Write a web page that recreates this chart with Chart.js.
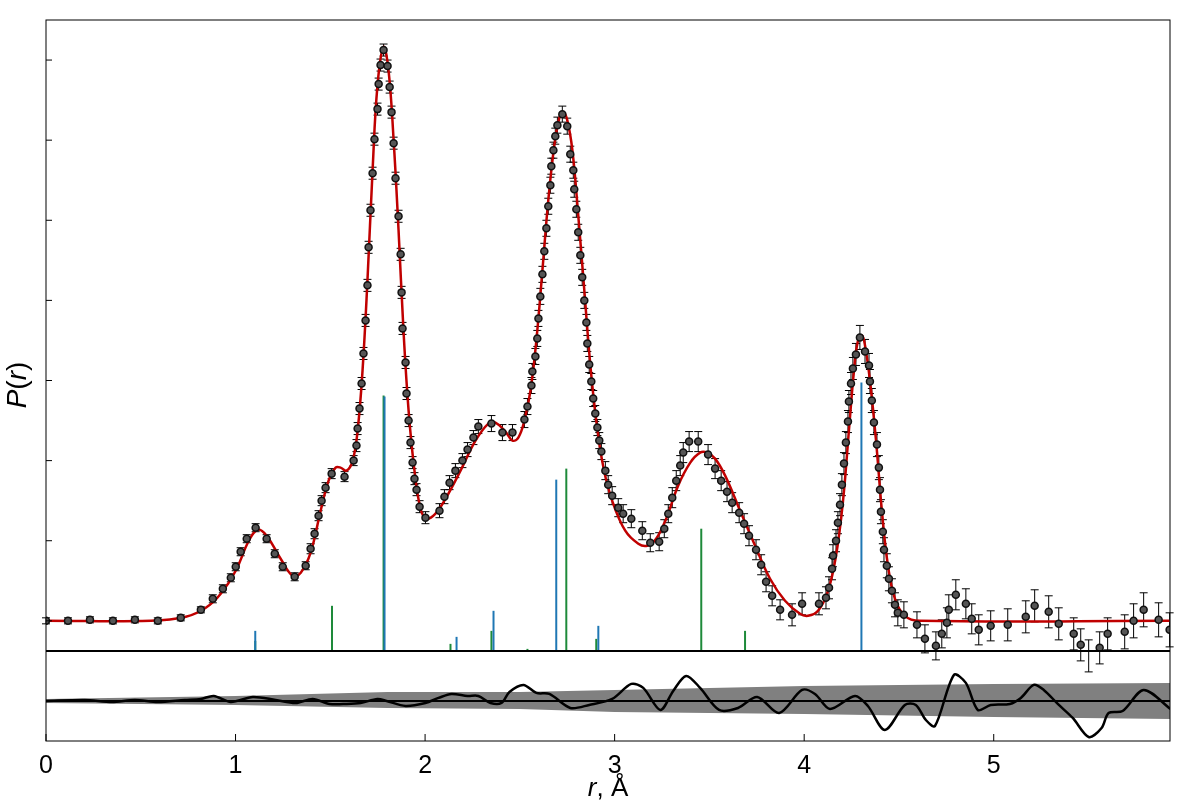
<!DOCTYPE html>
<html>
<head>
<meta charset="utf-8">
<script src="https://cdn.jsdelivr.net/npm/chart.js@4.4.0/dist/chart.umd.min.js"></script>
<style>
  html, body { margin: 0; padding: 0; background: #fff; }
  #wrap { width: 1200px; height: 800px; }
</style>
</head>
<body>
<div id="wrap"><canvas id="pr"></canvas></div>
<script>
// measured P(r): [r, P, error]
const measured = [
  [0,0,3],[0.116,0,3],[0.232,1,3],[0.353,0,3],[0.469,1,3],[0.590,0,3],[0.711,3,3],[0.817,11,3],
  [0.880,22,4],[0.933,32,4],[0.975,43,4],[1.001,54,4],[1.027,69,4],[1.059,82,4],[1.106,93,4],
  [1.164,82,4],[1.207,67,4],[1.249,54,4],[1.312,44,4],[1.370,55,4],[1.396,72,5],[1.417,87,5],
  [1.438,105,5],[1.454,120,5],[1.475,133,5],[1.507,147,5],[1.575,144,5],[1.623,160,5],[1.638,175,6],
  [1.644,192,6],[1.654,212,6],[1.665,237,6],[1.675,267,6],[1.686,300,6],[1.696,335,6],[1.702,373,6],
  [1.712,410,6],[1.723,447,6],[1.733,481,6],[1.749,511,6],[1.755,536,6],[1.765,555,6],[1.781,570,6],
  [1.802,554,6],[1.813,533,6],[1.823,508,6],[1.834,477,6],[1.844,442,6],[1.860,404,6],[1.871,366,6],
  [1.876,328,6],[1.881,292,6],[1.897,258,6],[1.902,227,6],[1.913,200,6],[1.923,178,6],[1.934,158,6],
  [1.944,142,6],[1.955,131,6],[1.971,114,6],[2.002,103,6],[2.076,110,7],[2.102,124,7],[2.129,138,7],
  [2.160,150,7],[2.197,160,7],[2.224,171,7],[2.255,183,7],[2.281,194,7],[2.350,197,8],[2.408,188,8],
  [2.461,188,8],[2.524,201,8],[2.540,214,8],[2.561,235,8],[2.566,249,8],[2.582,264,8],[2.592,282,8],
  [2.598,302,8],[2.608,324,8],[2.619,346,8],[2.629,369,8],[2.640,392,8],[2.650,414,8],[2.661,435,8],
  [2.666,454,8],[2.677,470,8],[2.687,484,8],[2.698,495,8],[2.724,506,8],[2.750,494,8],[2.766,466,8],
  [2.782,450,8],[2.787,431,8],[2.798,411,8],[2.808,388,8],[2.819,365,8],[2.829,343,8],[2.840,320,8],
  [2.851,298,8],[2.856,277,8],[2.866,256,8],[2.877,239,8],[2.887,222,8],[2.898,207,8],[2.909,193,8],
  [2.919,180,8],[2.930,169,8],[2.951,150,9],[2.966,136,9],[2.987,125,9],[3.019,113,9],[3.045,107,9],
  [3.088,102,9],[3.146,90,9],[3.188,78,9],[3.235,79,9],[3.262,92,9],[3.283,107,9],[3.304,123,10],
  [3.325,140,10],[3.346,155,10],[3.362,168,10],[3.393,179,10],[3.441,179,10],[3.493,166,10],
  [3.530,152,10],[3.562,140,10],[3.593,129,10],[3.620,118,10],[3.657,108,10],[3.683,97,10],
  [3.709,85,10],[3.746,71,10],[3.773,56,10],[3.799,39,10],[3.831,25,10],[3.873,11,10],[3.936,6,11],
  [3.989,17,11],[4.078,17,11],[4.115,23,11],[4.131,33,11],[4.147,52,11],[4.152,65,11],[4.168,80,11],
  [4.178,98,11],[4.189,116,11],[4.199,136,11],[4.210,157,11],[4.220,178,11],[4.231,199,11],
  [4.236,219,11],[4.247,237,11],[4.257,252,11],[4.273,266,11],[4.294,283,12],[4.321,269,12],
  [4.342,255,12],[4.347,239,12],[4.357,220,12],[4.368,198,12],[4.384,176,12],[4.394,153,12],
  [4.400,131,12],[4.405,109,12],[4.415,89,12],[4.421,71,12],[4.436,55,12],[4.447,42,12],[4.463,30,12],
  [4.479,16,12],[4.494,8,13],[4.526,6,13],[4.595,-4,13],[4.637,-18,14],[4.695,-25,14],[4.726,-13,14],
  [4.753,-2,15],[4.763,11,15],[4.800,26,15],[4.853,17,15],[4.884,2,15],[4.921,-9,15],[4.984,-5,15],
  [5.074,-4,16],[5.169,4,16],[5.216,15,16],[5.290,9,16],[5.343,-3,16],[5.422,-13,16],[5.459,-24,16],
  [5.501,-35,16],[5.559,-27,16],[5.601,-13,16],[5.691,-11,17],[5.738,0,17],[5.791,11,17],
  [5.870,1,17],[5.928,-9,17]
];

// fitted P(r)
const fitR = [0,0.553,0.738,0.843,0.922,1.001,1.070,1.117,1.164,1.238,1.301,1.344,1.396,1.449,1.491,
  1.528,1.554,1.586,1.618,1.644,1.670,1.696,1.723,1.749,1.781,1.807,1.834,1.860,1.886,1.913,1.944,
  1.976,2.007,2.055,2.108,2.187,2.266,2.334,2.371,2.424,2.461,2.492,2.524,2.556,2.587,2.619,2.650,
  2.682,2.708,2.729,2.750,2.777,2.808,2.840,2.872,2.903,2.940,2.987,3.056,3.125,3.172,3.219,3.272,
  3.335,3.399,3.451,3.488,3.530,3.583,3.662,3.741,3.820,3.899,3.978,4.020,4.073,4.126,4.168,4.205,
  4.236,4.263,4.284,4.305,4.321,4.347,4.379,4.410,4.442,4.479,4.531,4.610,5.928];
const fitP = [0,0,4,13,27,50,80,91,85,62,45,48,68,110,140,153,153,150,160,190,250,340,450,535,573,
  550,480,390,290,210,150,112,102,107,122,150,180,197,198,189,180,183,200,230,280,350,420,475,502,
  508,500,470,405,330,255,200,154,120,90,77,75,82,102,135,158,168,168,162,145,110,75,42,20,7,5,10,
  30,65,120,190,250,280,285,275,240,180,110,55,22,5,0,0];

// partial contributions (sticks): r and height
const stickBlueR = [1.104,1.786,2.166,2.361,2.692,2.914,4.302];
const stickBlueP = [-10,224,-16,10,141,-5,238];
const stickGreenR = [1.104,1.509,1.781,2.134,2.350,2.540,2.745,2.903,3.457,3.688];
const stickGreenP = [-20,15,225,-23,-10,-28,152,-18,92,-10];
const stickBase = -30;

// residuals
const resR = [0,0.205,0.348,0.469,0.590,0.732,0.817,0.885,0.975,1.091,1.212,1.317,1.407,1.496,1.586,
  1.660,1.749,1.797,1.897,2.002,2.071,2.139,2.224,2.281,2.345,2.403,2.445,2.519,2.587,2.656,2.766,
  2.866,2.987,3.088,3.151,3.241,3.309,3.377,3.451,3.551,3.651,3.752,3.868,3.989,4.057,4.136,4.268,
  4.336,4.426,4.531,4.589,4.642,4.690,4.790,4.853,4.916,4.984,5.085,5.143,5.211,5.264,5.338,5.417,
  5.501,5.569,5.606,5.680,5.791,5.933];
const resV = [0,1,-1,1,-1,1,2,5,-1,4,1,-2,2,-3,-3,-2,2,0,-5,-2,3,7,5,5,-2,-2,9,16,8,7,-7,-4,2,17,13,
  -9,10,25,13,-9,-7,4,-12,11,7,-8,5,-5,-29,-4,-4,-19,-25,26,18,-9,-4,-3,3,16,11,-3,-17,-36,-27,-12,
  -10,11,-8];

// noise band
const bandR = [0,1,1.8,2.5,3,4,5,5.93];
const bandHi = [2,5,9,9,11,15,17,18];
const bandLo = [-2,-4,-7,-8,-11,-13,-16,-18];

const xTicks = [0,1,2,3,4,5];
const yTicks = [0,80,160,240,320,400,480,560];

const decor = {
  id: "decor",
  beforeDatasetsDraw(chart) {
    const { ctx, scales } = chart;
    const x = scales.x, y = scales.y;
    ctx.save();
    ctx.lineWidth = 2;
    ctx.strokeStyle = "#1e8a3a";
    stickGreenR.forEach((r, i) => {
      ctx.beginPath();
      ctx.moveTo(x.getPixelForValue(r), y.getPixelForValue(stickBase));
      ctx.lineTo(x.getPixelForValue(r), y.getPixelForValue(stickGreenP[i]));
      ctx.stroke();
    });
    ctx.strokeStyle = "#1f77b4";
    stickBlueR.forEach((r, i) => {
      ctx.beginPath();
      ctx.moveTo(x.getPixelForValue(r), y.getPixelForValue(stickBase));
      ctx.lineTo(x.getPixelForValue(r), y.getPixelForValue(stickBlueP[i]));
      ctx.stroke();
    });
    // error bars
    ctx.strokeStyle = "#000";
    ctx.lineWidth = 1;
    measured.forEach(([r, p, e]) => {
      const px = x.getPixelForValue(r);
      const t = y.getPixelForValue(p + e), b = y.getPixelForValue(p - e);
      ctx.beginPath();
      ctx.moveTo(px, t); ctx.lineTo(px, b);
      ctx.moveTo(px - 4, t); ctx.lineTo(px + 4, t);
      ctx.moveTo(px - 4, b); ctx.lineTo(px + 4, b);
      ctx.stroke();
    });
    ctx.restore();
  },
  afterDraw(chart) {
    const { ctx, chartArea: a, scales } = chart;
    const x = scales.x, y = scales.y;
    ctx.save();
    ctx.strokeStyle = "#000";
    ctx.lineWidth = 1;
    ctx.strokeRect(a.left, a.top, a.right - a.left, a.bottom - a.top);
    ctx.lineWidth = 2;
    const yb = y.getPixelForValue(stickBase);
    ctx.beginPath(); ctx.moveTo(a.left, yb); ctx.lineTo(a.right, yb); ctx.stroke();
    ctx.lineWidth = 1;
    yTicks.forEach(v => {
      const py = y.getPixelForValue(v);
      ctx.beginPath(); ctx.moveTo(a.left, py); ctx.lineTo(a.left + 6, py); ctx.stroke();
    });
    xTicks.forEach(v => {
      const px = x.getPixelForValue(v);
      ctx.beginPath(); ctx.moveTo(px, a.bottom); ctx.lineTo(px, a.bottom - 7); ctx.stroke();
    });
    // axis titles
    ctx.fillStyle = "#000";
    ctx.textBaseline = "alphabetic";
    const f = "26px 'Liberation Sans', sans-serif";
    ctx.font = "italic " + f;
    const rw = ctx.measureText("r").width;
    ctx.font = f;
    const cw = ctx.measureText(", Å").width;
    const sx = (a.left + a.right) / 2 - (rw + cw) / 2;
    ctx.font = "italic " + f;
    ctx.fillText("r", sx, 796);
    ctx.font = f;
    ctx.fillText(", Å", sx + rw, 796);

    ctx.translate(26, 385);
    ctx.rotate(-Math.PI / 2);
    const parts = [["P", true], ["(", false], ["r", true], [")", false]];
    let tw = 0;
    parts.forEach(([s, it]) => {
      ctx.font = (it ? "italic " : "") + "28px 'Liberation Sans', sans-serif";
      tw += ctx.measureText(s).width;
    });
    let cx = -tw / 2;
    parts.forEach(([s, it]) => {
      ctx.font = (it ? "italic " : "") + "28px 'Liberation Sans', sans-serif";
      ctx.fillText(s, cx, 0);
      cx += ctx.measureText(s).width;
    });
    ctx.restore();
  }
};

new Chart(document.getElementById("pr"), {
  type: "scatter",
  data: {
    datasets: [
      {
        data: bandR.map((r, i) => ({ x: r, y: bandHi[i] })),
        yAxisID: "res", showLine: true, pointRadius: 0, borderWidth: 0,
        backgroundColor: "rgba(128,128,128,1)", fill: "+1", order: 5
      },
      {
        data: bandR.map((r, i) => ({ x: r, y: bandLo[i] })),
        yAxisID: "res", showLine: true, pointRadius: 0, borderWidth: 0, order: 5
      },
      {
        data: [{ x: 0, y: 0 }, { x: 5.93, y: 0 }],
        yAxisID: "res", showLine: true, pointRadius: 0, borderWidth: 2, borderColor: "#000", order: 4
      },
      {
        data: resR.map((r, i) => ({ x: r, y: resV[i] })),
        yAxisID: "res", showLine: true, pointRadius: 0, borderWidth: 2.5,
        borderColor: "#000", tension: 0.3, order: 3
      },
      {
        data: fitR.map((r, i) => ({ x: r, y: fitP[i] })),
        yAxisID: "y", showLine: true, pointRadius: 0, borderWidth: 2.5,
        borderColor: "#c00000", tension: 0.4, order: 2
      },
      {
        data: measured.map(([r, p]) => ({ x: r, y: p })),
        yAxisID: "y", pointRadius: 3.5, pointBackgroundColor: "#555",
        pointBorderColor: "#111", pointBorderWidth: 1.5, order: 1
      }
    ]
  },
  options: {
    responsive: true,
    maintainAspectRatio: false,
    animation: false,
    layout: { padding: { left: 38, right: 30, top: 20, bottom: 17 } },
    plugins: { legend: { display: false }, tooltip: { enabled: false } },
    scales: {
      x: {
        min: 0, max: 5.93,
        grid: { display: false }, border: { display: false },
        afterBuildTicks: s => { s.ticks = xTicks.map(v => ({ value: v })); },
        ticks: {
          padding: 2, color: "#000",
          font: { family: "'Liberation Sans', sans-serif", size: 25 }
        }
      },
      res: {
        stack: "panels", stackWeight: 90, min: -40, max: 50, position: "left",
        grid: { display: false }, border: { display: false },
        ticks: { display: false, padding: 0 }
      },
      y: {
        stack: "panels", stackWeight: 630, min: -30, max: 600, position: "left",
        grid: { display: false }, border: { display: false },
        ticks: { display: false, padding: 0 }
      }
    }
  },
  plugins: [decor]
});
</script>
</body>
</html>
